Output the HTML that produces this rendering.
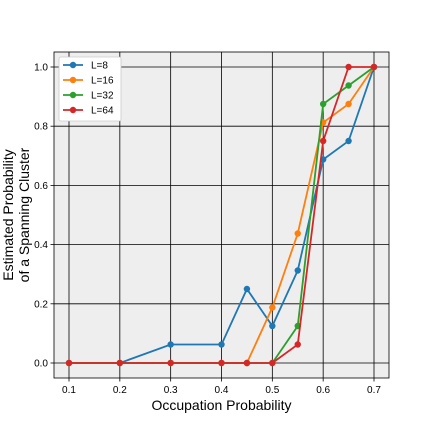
<!DOCTYPE html>
<html><head><meta charset="utf-8"><style>body{margin:0;background:#fff}svg{display:block;font-family:"Liberation Sans",sans-serif}</style></head>
<body>
<svg id="chart" width="432" height="432"></svg>
<script>
const xValues=[0.1,0.2,0.3,0.4,0.45,0.5,0.55,0.6,0.65,0.7];
const seriesL8=[0,0,0.0625,0.0625,0.25,0.125,0.3125,0.6875,0.75,1];
const seriesL16=[0,0,0,0,0,0.1875,0.4375,0.8125,0.875,1];
const seriesL32=[0,0,0,0,0,0,0.125,0.875,0.9375,1];
const seriesL64=[0,0,0,0,0,0,0.0625,0.75,1,1];
const seriesNames=["L=8","L=16","L=32","L=64"];
const xTicks=[0.1,0.2,0.3,0.4,0.5,0.6,0.7];
const yTicks=[0,0.2,0.4,0.6,0.8,1.0];
const colors=["#1f77b4","#ff7f0e","#2ca02c","#d62728"];
const NS="http://www.w3.org/2000/svg";
const svg=document.getElementById('chart');
const L=54,R=389,T=52,B=378;
const sx=v=>69+(v-0.1)/0.6*305;
const sy=v=>363-v*296;
function el(t,a,p){const e=document.createElementNS(NS,t);for(const k in a)e.setAttribute(k,a[k]);(p||svg).appendChild(e);return e;}
const bg=el('rect',{x:L,y:T,width:R-L,height:B-T,fill:'#eeeeee'});


xTicks.forEach(v=>{
 const g=el('line',{x1:sx(v),x2:sx(v),y1:T,y2:B,stroke:'#000','stroke-width':0.8});
 
 
 el('line',{x1:sx(v),x2:sx(v),y1:B,y2:B+3.5,stroke:'#000','stroke-width':0.8});
 const t=el('text',{x:sx(v),y:B+15,'font-size':10,'text-anchor':'middle'});t.textContent=v.toFixed(1);
 
 
});
yTicks.forEach(v=>{
 const g=el('line',{x1:L,x2:R,y1:sy(v),y2:sy(v),stroke:'#000','stroke-width':0.8});
 
 
 el('line',{x1:L-3.5,x2:L,y1:sy(v),y2:sy(v),stroke:'#000','stroke-width':0.8});
 const t=el('text',{x:L-6,y:sy(v)+3.5,'font-size':10,'text-anchor':'end'});t.textContent=v.toFixed(1);
 
 
});
el('rect',{x:L,y:T,width:R-L,height:B-T,fill:'none',stroke:'#000','stroke-width':0.8});
const allSeries=[seriesL8,seriesL16,seriesL32,seriesL64];
allSeries.forEach((s,i)=>{
 const p=el('polyline',{points:s.map((v,j)=>sx(xValues[j])+','+sy(v)).join(' '),fill:'none',stroke:colors[i],'stroke-width':1.8});
 
 
 s.forEach((v,j)=>{const c=el('circle',{cx:sx(xValues[j]),cy:sy(v),r:3.2,fill:colors[i]});
  
  });
});
const lg=el('g',{});


el('rect',{x:59,y:57,width:62,height:64,fill:'#fff',stroke:'#ccc','stroke-width':0.8,rx:2},lg);
seriesNames.forEach((n,i)=>{
 const y=65+i*15;
 el('line',{x1:63,x2:83,y1:y,y2:y,stroke:colors[i],'stroke-width':1.8},lg);
 el('circle',{cx:73,cy:y,r:3.2,fill:colors[i]},lg);
 const t=el('text',{x:91,y:y+3.5,'font-size':10},lg);t.textContent=n;
 
 
});
const xt=el('text',{x:(L+R)/2,y:410,'font-size':14,'text-anchor':'middle'});xt.textContent='Occupation Probability';


const yt=el('text',{'font-size':14,'text-anchor':'middle',transform:'translate(13,215) rotate(-90)'});


const t1=el('tspan',{x:0,y:0},yt);t1.textContent='Estimated Probability';
const t2=el('tspan',{x:0,y:16},yt);t2.textContent='of a Spanning Cluster';
</script>
</body></html>
